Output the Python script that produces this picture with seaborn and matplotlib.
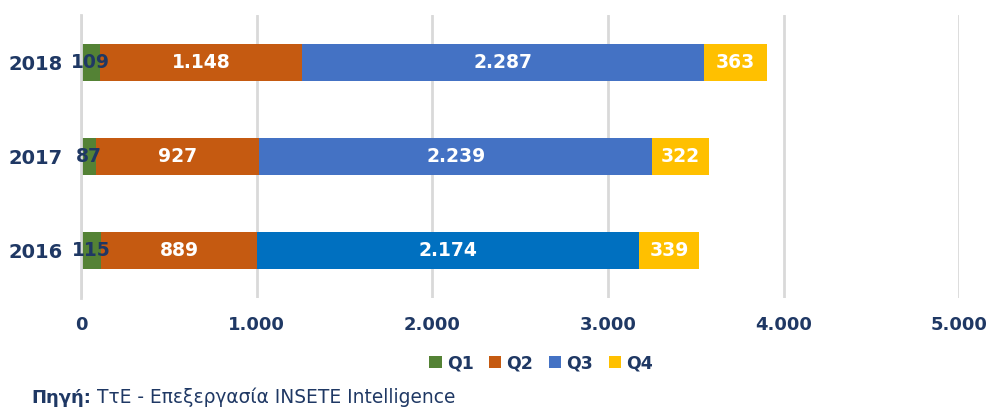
import pandas as pd
import numpy as np
import matplotlib.pyplot as plt
import seaborn as sns
from matplotlib.patches import Patch

# ---- data ----
years = ["2018", "2017", "2016"]
quarters = ["Q1", "Q2", "Q3", "Q4"]
q1 = [109, 87, 115]
q2 = [1148, 927, 889]
q3 = [2287, 2239, 2174]
q4 = [363, 322, 339]
x_ticks = [0, 1000, 2000, 3000, 4000, 5000]

colors = {"Q1": "#548235", "Q2": "#C55A11", "Q3": "#4472C4", "Q4": "#FFC000"}
q3_2016 = "#0070C0"
navy = "#1F3864"

sns.set_style("white")
plt.rcParams["font.family"] = ["DejaVu Sans"]

df = pd.DataFrame({"year": years, "Q1": q1, "Q2": q2, "Q3": q3, "Q4": q4})
cum = df[quarters].cumsum(axis=1)

fig = plt.figure(figsize=(9.93, 4.08), dpi=100)
ax = fig.add_axes([0.0816, 0.2696, 0.8845, 0.6934])

# stacked bars drawn back-to-front (cumulative totals overlap)
for q in reversed(quarters):
    pal = {y: colors[q] for y in years}
    if q == "Q3":
        pal["2016"] = q3_2016
    sns.barplot(data=cum.assign(year=df["year"]), x=q, y="year", hue="year",
                palette=pal, order=years, orient="h", width=0.39,
                legend=False, ax=ax, saturation=1, linewidth=0)

# segment labels
for i, yr in enumerate(years):
    left = 0
    for q in quarters:
        v = df.loc[i, q]
        txt = f"{v:,}".replace(",", ".")
        ax.text(left + v / 2, i, txt, ha="center", va="center",
                color=navy if q == "Q1" else "white",
                fontsize=13.5, fontweight="bold")
        left += v

ax.set_xlim(0, 5000)
ax.set_ylim(2.5, -0.5)
ax.set_xticks(x_ticks)
ax.set_xticklabels([f"{t:,}".replace(",", ".") for t in x_ticks],
                   fontsize=13, fontweight="bold", color=navy)
ax.set_yticks(range(len(years)))
ax.set_yticklabels(years, fontsize=14, fontweight="bold", color=navy)
ax.set_xlabel("")
ax.set_ylabel("")
ax.tick_params(axis="x", length=0, pad=13)
ax.tick_params(axis="y", length=0, pad=13)

ax.xaxis.grid(True, color="#D9D9D9", linewidth=2)
ax.set_axisbelow(True)
for s in ["top", "right", "bottom"]:
    ax.spines[s].set_visible(False)
ax.spines["left"].set_color("#D9D9D9")
ax.spines["left"].set_linewidth(2)

# small category boundary ticks on the y axis
ax.set_yticks([0.5, 1.5, 2.5], minor=True)
ax.tick_params(axis="y", which="minor", length=4, width=1.5, color="#D9D9D9")

handles = [Patch(facecolor=colors[q], edgecolor="none") for q in quarters]
fig.legend(handles, quarters, loc="center", bbox_to_anchor=(0.545, 0.110),
           ncol=4, frameon=False, handlelength=0.7, handleheight=0.75,
           handletextpad=0.3, columnspacing=0.9,
           prop={"weight": "bold", "size": 12.5}, labelcolor=navy)

fig.text(0.032, 0.012, "Πηγή:", fontsize=13, fontweight="bold", color=navy)
fig.text(0.0977, 0.012, "ΤτΕ - Επεξεργασία INSETE Intelligence", fontsize=13.4,
         color=navy)

fig.savefig("out.png", dpi=100)
